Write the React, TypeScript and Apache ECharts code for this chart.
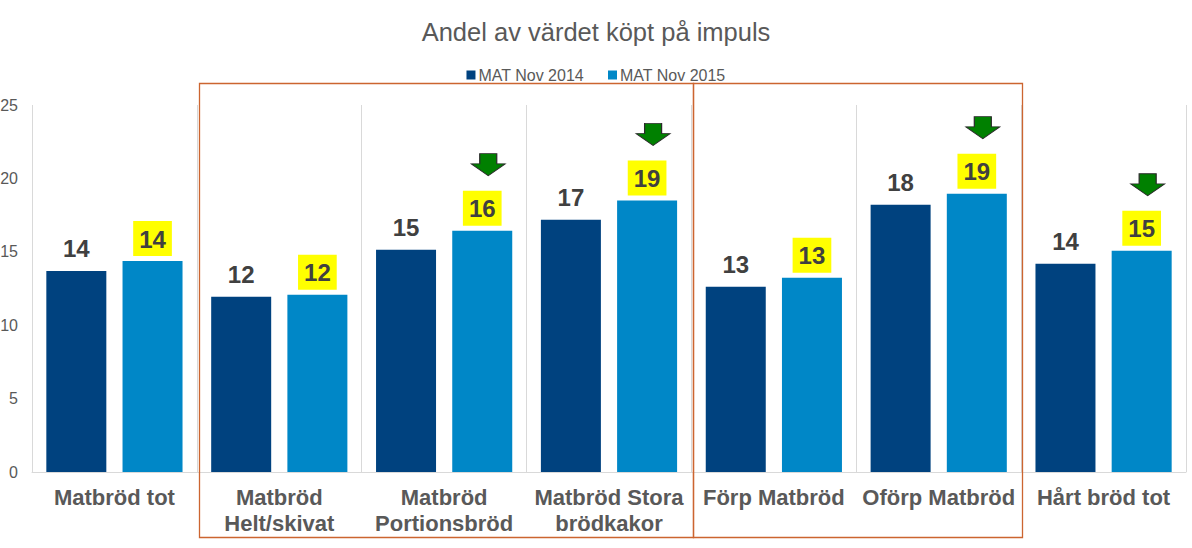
import React, { useEffect, useRef } from "react";
import * as echarts from "echarts";

const titleText = "Andel av värdet köpt på impuls";
const categories = [
  "Matbröd tot",
  "Matbröd\nHelt/skivat",
  "Matbröd\nPortionsbröd",
  "Matbröd Stora\nbrödkakor",
  "Förp Matbröd",
  "Oförp Matbröd",
  "Hårt bröd tot",
];
const seriesNames = ["MAT Nov 2014", "MAT Nov 2015"];
const values2014 = [13.7, 11.94, 15.14, 17.19, 12.62, 18.21, 14.19];
const values2015 = [14.37, 12.07, 16.44, 18.5, 13.23, 18.96, 15.07];
const arrowIndices = [2, 3, 5, 6];
// boxes: [first category index, last category index]
const boxRanges = [
  [1, 3],
  [4, 5],
];

const FONT = "'Liberation Sans', Arial, sans-serif";
const GREY = "#595959";
const ARROW = "path://M25,0 L75,0 L75,46 L100,46 L50,100 L0,46 L25,46 Z";

export default function App() {
  const ref = useRef<HTMLDivElement>(null);
  useEffect(() => {
    if (!ref.current) return;
    const chart = echarts.init(ref.current, undefined, { renderer: "svg" });
    const labelBase = {
      show: true,
      position: "top",
      distance: 5,
      fontSize: 24,
      fontWeight: "bold",
      fontFamily: FONT,
      color: "#404040",
      lineHeight: 24,
      padding: [6, 6, 5, 6],
      formatter: (p: any) => String(Math.round(p.value)),
    };
    chart.setOption({
      animation: false,
      textStyle: { fontFamily: FONT },
      title: {
        text: titleText,
        left: "center",
        top: 14,
        textStyle: { fontSize: 25.5, fontWeight: "normal", color: GREY, fontFamily: FONT },
      },
      legend: {
        top: 62,
        left: "center",
        itemWidth: 9,
        itemHeight: 9,
        itemGap: 24,
        icon: "rect",
        textStyle: { fontSize: 16, color: GREY, fontFamily: FONT, padding: [0, 0, 0, -2] },
        data: seriesNames,
      },
      grid: {
        left: 32,
        right: 6,
        top: 105,
        bottom: 76,
        containLabel: false,
        outerBoundsMode: "none",
      },
      xAxis: {
        type: "category",
        data: categories,
        axisLine: { show: true, lineStyle: { color: "#d9d9d9", width: 1 } },
        axisTick: { show: false },
        splitLine: { show: true, lineStyle: { color: "#d9d9d9", width: 1 } },
        axisLabel: {
          interval: 0,
          margin: 12,
          fontSize: 22,
          lineHeight: 26,
          fontWeight: "bold",
          color: GREY,
          fontFamily: FONT,
        },
      },
      yAxis: {
        type: "value",
        min: 0,
        max: 25,
        interval: 5,
        splitLine: { show: false },
        axisLine: { show: false },
        axisTick: { show: false },
        axisLabel: { fontSize: 16, color: GREY, margin: 14, fontFamily: FONT },
      },
      series: [
        {
          name: seriesNames[0],
          type: "bar",
          data: values2014,
          barWidth: 60,
          barGap: "27%",
          itemStyle: { color: "#00427f" },
          label: { ...labelBase },
        },
        {
          name: seriesNames[1],
          type: "bar",
          data: values2015,
          barWidth: 60,
          itemStyle: { color: "#0087c7" },
          label: { ...labelBase, backgroundColor: "#ffff00" },
          markPoint: {
            symbol: ARROW,
            symbolSize: [34, 22],
            symbolOffset: [6, -66],
            symbolKeepAspect: false,
            label: { show: false },
            itemStyle: { color: "#008000", borderColor: "#2b2b2b", borderWidth: 1 },
            data: arrowIndices.map((i) => ({ coord: [categories[i], values2015[i]] })),
          },
        },
      ],
    });

    const c0 = chart.convertToPixel({ xAxisIndex: 0 }, 0) as number;
    const c1 = chart.convertToPixel({ xAxisIndex: 0 }, 1) as number;
    const w = c1 - c0;
    const rects = boxRanges.map(([a, b]) => {
      const ca = chart.convertToPixel({ xAxisIndex: 0 }, a) as number;
      const cb = chart.convertToPixel({ xAxisIndex: 0 }, b) as number;
      const x1 = ca - w / 2;
      const x2 = cb + w / 2;
      return {
        type: "rect",
        shape: { x: Math.round(x1) + 2.5, y: 83.5, width: Math.round(x2 - x1) - 1, height: 454 },
        style: { fill: "none", stroke: "#cc6530", lineWidth: 1.3 },
        z: 10,
      };
    });
    chart.setOption({ graphic: rects });

    return () => chart.dispose();
  }, []);
  return (
    <div
      ref={ref}
      style={{ position: "fixed", left: 0, top: 0, width: 1192, height: 548, background: "#fff" }}
    />
  );
}
